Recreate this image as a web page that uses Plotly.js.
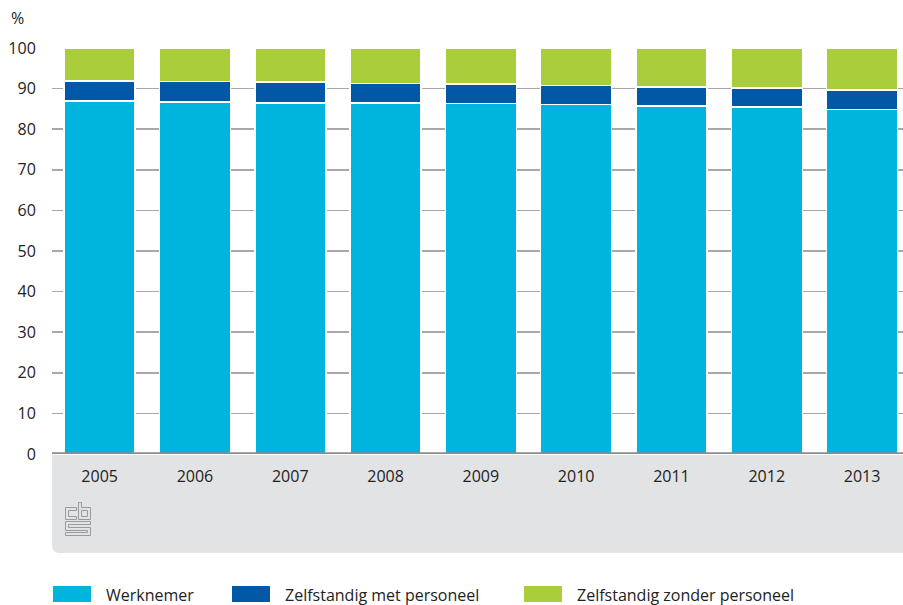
<!DOCTYPE html>
<html>
<head>
<meta charset="utf-8">
<script src="https://cdn.plot.ly/plotly-3.0.1.min.js"></script>
<style>
html,body{margin:0;padding:0;background:#fff;}
#chart{width:903px;height:605px;}
</style>
</head>
<body>
<div id="chart"></div>
<script>
// ---- data ----
const years = ['2005','2006','2007','2008','2009','2010','2011','2012','2013'];
const seriesNames = ['Werknemer','Zelfstandig met personeel','Zelfstandig zonder personeel'];
const werknemer = [86.9, 86.7, 86.5, 86.4, 86.3, 86.1, 85.7, 85.5, 84.9];
const zelfstandigMet = [5.0, 5.1, 5.1, 4.8, 4.8, 4.7, 4.7, 4.6, 4.7];
const zelfstandigZonder = [8.1, 8.2, 8.4, 8.8, 8.9, 9.2, 9.6, 9.9, 10.4];
const yTicks = [0,10,20,30,40,50,60,70,80,90,100];
const yUnit = '%';

const colors = ['#00b5dd', '#0058a6', '#a9cd3b'];
const seriesValues = [werknemer, zelfstandigMet, zelfstandigZonder];

// ---- layout geometry (pixels) ----
const W = 903, H = 605;
const L = 52, R = 903, T = 48, B = 454;
const pw = R - L, ph = B - T;
const px = x => (x - L) / pw;
const py = y => (B - y) / ph;

const traces = seriesNames.map((name, i) => ({
  type: 'bar',
  name: name,
  x: years,
  y: seriesValues[i],
  width: 0.745,
  marker: {color: colors[i], line: {color: '#ffffff', width: 1.5}},
  hoverinfo: 'x+y+name',
  showlegend: false
}));

const font = '"Open Sans", "DejaVu Sans", sans-serif';
const textColor = '#222222';

// gray box under the axis, rounded bottom-left corner
const boxBottom = 553;
const rx = 8 / pw, ry = 8 / ph;
const yb = py(boxBottom);
const shapes = [
  {
    type: 'path', xref: 'paper', yref: 'paper', layer: 'below',
    path: `M 0,${py(455)} H 1 V ${yb} H ${rx} Q 0,${yb} 0,${yb + ry} Z`,
    fillcolor: '#e2e3e5', line: {width: 0}
  },
  {
    type: 'line', xref: 'paper', yref: 'y', layer: 'above',
    x0: 0, x1: 1, y0: 0, y1: 0,
    line: {color: '#8c8c8e', width: 3.5}
  }
];

const annotations = [
  {
    text: yUnit, xref: 'paper', yref: 'paper', x: px(9), y: py(18),
    xanchor: 'left', yanchor: 'middle', showarrow: false,
    font: {family: font, size: 16, color: textColor}
  }
];

// legend (custom, built from series names / colours)
const legendX = [53, 232, 524];
const legendY = 594;
seriesNames.forEach((name, i) => {
  shapes.push({
    type: 'rect', xref: 'paper', yref: 'paper',
    x0: px(legendX[i]), x1: px(legendX[i] + 38),
    y0: py(legendY - 8), y1: py(legendY + 8),
    fillcolor: colors[i], line: {width: 0}
  });
  annotations.push({
    text: name, xref: 'paper', yref: 'paper',
    x: px(legendX[i] + 51), y: py(legendY + 1),
    xanchor: 'left', yanchor: 'middle', showarrow: false,
    font: {family: font, size: 16, color: textColor}
  });
});

// CBS logo as inline svg
const logoSvg = '<svg xmlns="http://www.w3.org/2000/svg" width="26" height="34" viewBox="0 0 26 34">' +
  '<g fill="none" stroke="#9a9a9a" stroke-width="1">' +
  '<path d="M11.5,5.5 H0.5 V17.5 H11.5 V14.5 H3.5 V8.5 H11.5 Z"/>' +
  '<path d="M13.5,0.5 H16.5 V5.5 H25.5 V17.5 H13.5 Z"/>' +
  '<path d="M16.5,8.5 H22.5 V14.5 H16.5 Z"/>' +
  '<path d="M0.5,19.5 H25.5 V22.5 H3.5 V25.5 H25.5 V33.5 H0.5 V30.5 H22.5 V28.5 H0.5 Z"/>' +
  '</g></svg>';
const logoSrc = 'data:image/svg+xml;charset=utf-8,' + encodeURIComponent(logoSvg);

const layout = {
  width: W, height: H,
  margin: {l: L, r: W - R, t: T, b: H - B, pad: 0},
  paper_bgcolor: '#ffffff',
  plot_bgcolor: 'rgba(0,0,0,0)',
  barmode: 'stack',
  showlegend: false,
  font: {family: font, size: 16, color: textColor},
  xaxis: {
    type: 'category',
    range: [-0.5, -0.5 + pw / 95.3],
    showgrid: false, zeroline: false, showline: false,
    ticks: 'outside', ticklen: 8, tickcolor: 'rgba(0,0,0,0)',
    tickfont: {family: font, size: 16, color: textColor},
    fixedrange: true
  },
  yaxis: {
    range: [0, 100],
    tickvals: yTicks,
    showgrid: true, gridcolor: '#a8a8a8', gridwidth: 1.5,
    zeroline: false, showline: false,
    ticks: 'outside', ticklen: 12, tickcolor: 'rgba(0,0,0,0)',
    tickfont: {family: font, size: 16, color: textColor},
    fixedrange: true
  },
  shapes: shapes,
  annotations: annotations,
  images: [{
    source: logoSrc, xref: 'paper', yref: 'paper',
    x: px(65), y: py(502), sizex: 26 / pw, sizey: 34 / ph,
    xanchor: 'left', yanchor: 'top', sizing: 'stretch', layer: 'above'
  }]
};

Plotly.newPlot('chart', traces, layout, {displayModeBar: false, staticPlot: true});
</script>
</body>
</html>
